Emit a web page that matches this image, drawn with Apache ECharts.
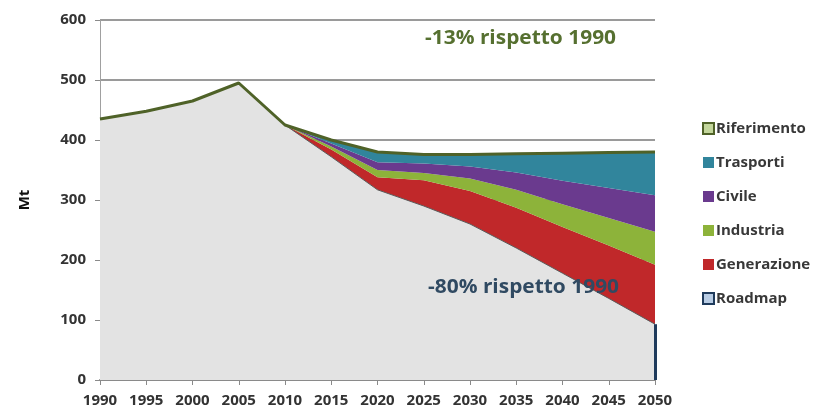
<!DOCTYPE html>
<html>
<head>
<meta charset="utf-8">
<script src="https://cdn.jsdelivr.net/npm/echarts@6/dist/echarts.min.js"></script>
<style>
  html, body { margin: 0; padding: 0; background: #fff; }
  #main { width: 813px; height: 410px; }
</style>
</head>
<body>
<div id="main"></div>
<script>
// anni
var years = ['1990', '1995', '2000', '2005', '2010', '2015', '2020', '2025', '2030', '2035', '2040', '2045', '2050'];

// scenario di riferimento (linea superiore)
var riferimento = [435, 448, 465, 495, 425, 400, 380, 376, 376, 377, 378, 379, 380];
// roadmap (area grigia di base)
var roadmap = [435, 448, 465, 495, 425, 372, 317, 290, 260, 220, 178, 136, 93];
// contributi per settore (spessore delle fasce)
var generazione = [0, 0, 0, 0, 0, 12, 21, 43, 55, 67, 77, 88, 99];
var industria = [0, 0, 0, 0, 0, 5, 12, 12, 21, 30, 38, 46, 55];
var civile = [0, 0, 0, 0, 0, 5, 13, 16, 20, 29, 39, 50, 61];
var trasporti = [0, 0, 0, 0, 0, 6, 17, 15, 20, 31, 46, 59, 71];

var chart = echarts.init(document.getElementById('main'));

function areaSerie(name, data, color) {
    return {
        name: name,
        type: 'line',
        stack: 'tot',
        data: data,
        symbol: 'none',
        lineStyle: {width: 0},
        areaStyle: {color: color, opacity: 1},
        itemStyle: {color: color}
    };
}

chart.setOption({
    animation: false,
    textStyle: {fontFamily: 'Open Sans'},
    grid: {left: 100, right: 158, top: 20, bottom: 30},
    legend: {
        orient: 'vertical',
        left: 697,
        top: 116,
        itemGap: 19,
        itemWidth: 11,
        itemHeight: 11,
        icon: 'rect',
        textStyle: {color: '#383838', fontSize: 15, fontWeight: 'bold', padding: [0, 0, 0, -3]},
        data: [
            {name: 'Riferimento', itemStyle: {color: '#c3d69b', borderColor: '#4f6228', borderWidth: 2}},
            {name: 'Trasporti', itemStyle: {color: '#31859c'}},
            {name: 'Civile', itemStyle: {color: '#6a3a8e'}},
            {name: 'Industria', itemStyle: {color: '#8db33a'}},
            {name: 'Generazione', itemStyle: {color: '#c0282a'}},
            {name: 'Roadmap', itemStyle: {color: '#b8cce4', borderColor: '#1f3b5c', borderWidth: 2}}
        ]
    },
    xAxis: {
        type: 'category',
        data: years,
        boundaryGap: false,
        axisLine: {lineStyle: {color: '#8a8a8a', width: 2}},
        axisTick: {show: true, length: 5, lineStyle: {color: '#8a8a8a'}},
        axisLabel: {color: '#333', fontSize: 15, fontWeight: 'bold', margin: 13}
    },
    yAxis: {
        type: 'value',
        min: 0,
        max: 600,
        interval: 100,
        name: 'Mt',
        nameLocation: 'middle',
        nameRotate: 90,
        nameGap: 68,
        nameTextStyle: {color: '#111', fontSize: 15, fontWeight: 'bold'},
        axisLine: {show: true, lineStyle: {color: '#a0a0a0', width: 1}},
        axisTick: {show: true, length: 5, lineStyle: {color: '#8a8a8a'}},
        axisLabel: {color: '#333', fontSize: 15, fontWeight: 'bold', margin: 14},
        splitLine: {lineStyle: {color: '#9a9a9a', width: 2}}
    },
    series: [
        {
            name: 'Roadmap',
            type: 'line',
            stack: 'tot',
            data: roadmap,
            symbol: 'none',
            lineStyle: {width: 1, color: '#5a5a5a'},
            areaStyle: {color: '#e3e3e3', opacity: 1},
            itemStyle: {color: '#b8cce4'},
            markLine: {
                symbol: 'none',
                silent: true,
                label: {show: false},
                lineStyle: {color: '#1f3b5c', width: 3, type: 'solid'},
                data: [[{coord: [years[years.length - 1], 0]}, {coord: [years[years.length - 1], roadmap[roadmap.length - 1]]}]]
            }
        },
        areaSerie('Generazione', generazione, '#c0282a'),
        areaSerie('Industria', industria, '#8db33a'),
        areaSerie('Civile', civile, '#6a3a8e'),
        areaSerie('Trasporti', trasporti, '#31859c'),
        {
            name: 'Riferimento',
            type: 'line',
            data: riferimento,
            symbol: 'none',
            z: 5,
            lineStyle: {color: '#4f6228', width: 3},
            itemStyle: {color: '#c3d69b'}
        }
    ],
    graphic: [
        {
            type: 'text',
            z: 100,
            x: 425,
            y: 29,
            scaleX: 1.1,
            style: {text: '-13% rispetto 1990', fill: '#567030', font: 'bold 19px "Open Sans"'}
        },
        {
            type: 'text',
            z: 100,
            x: 428,
            y: 278,
            scaleX: 1.1,
            style: {text: '-80% rispetto 1990', fill: '#304a62', font: 'bold 19px "Open Sans"'}
        }
    ]
});
</script>
</body>
</html>
